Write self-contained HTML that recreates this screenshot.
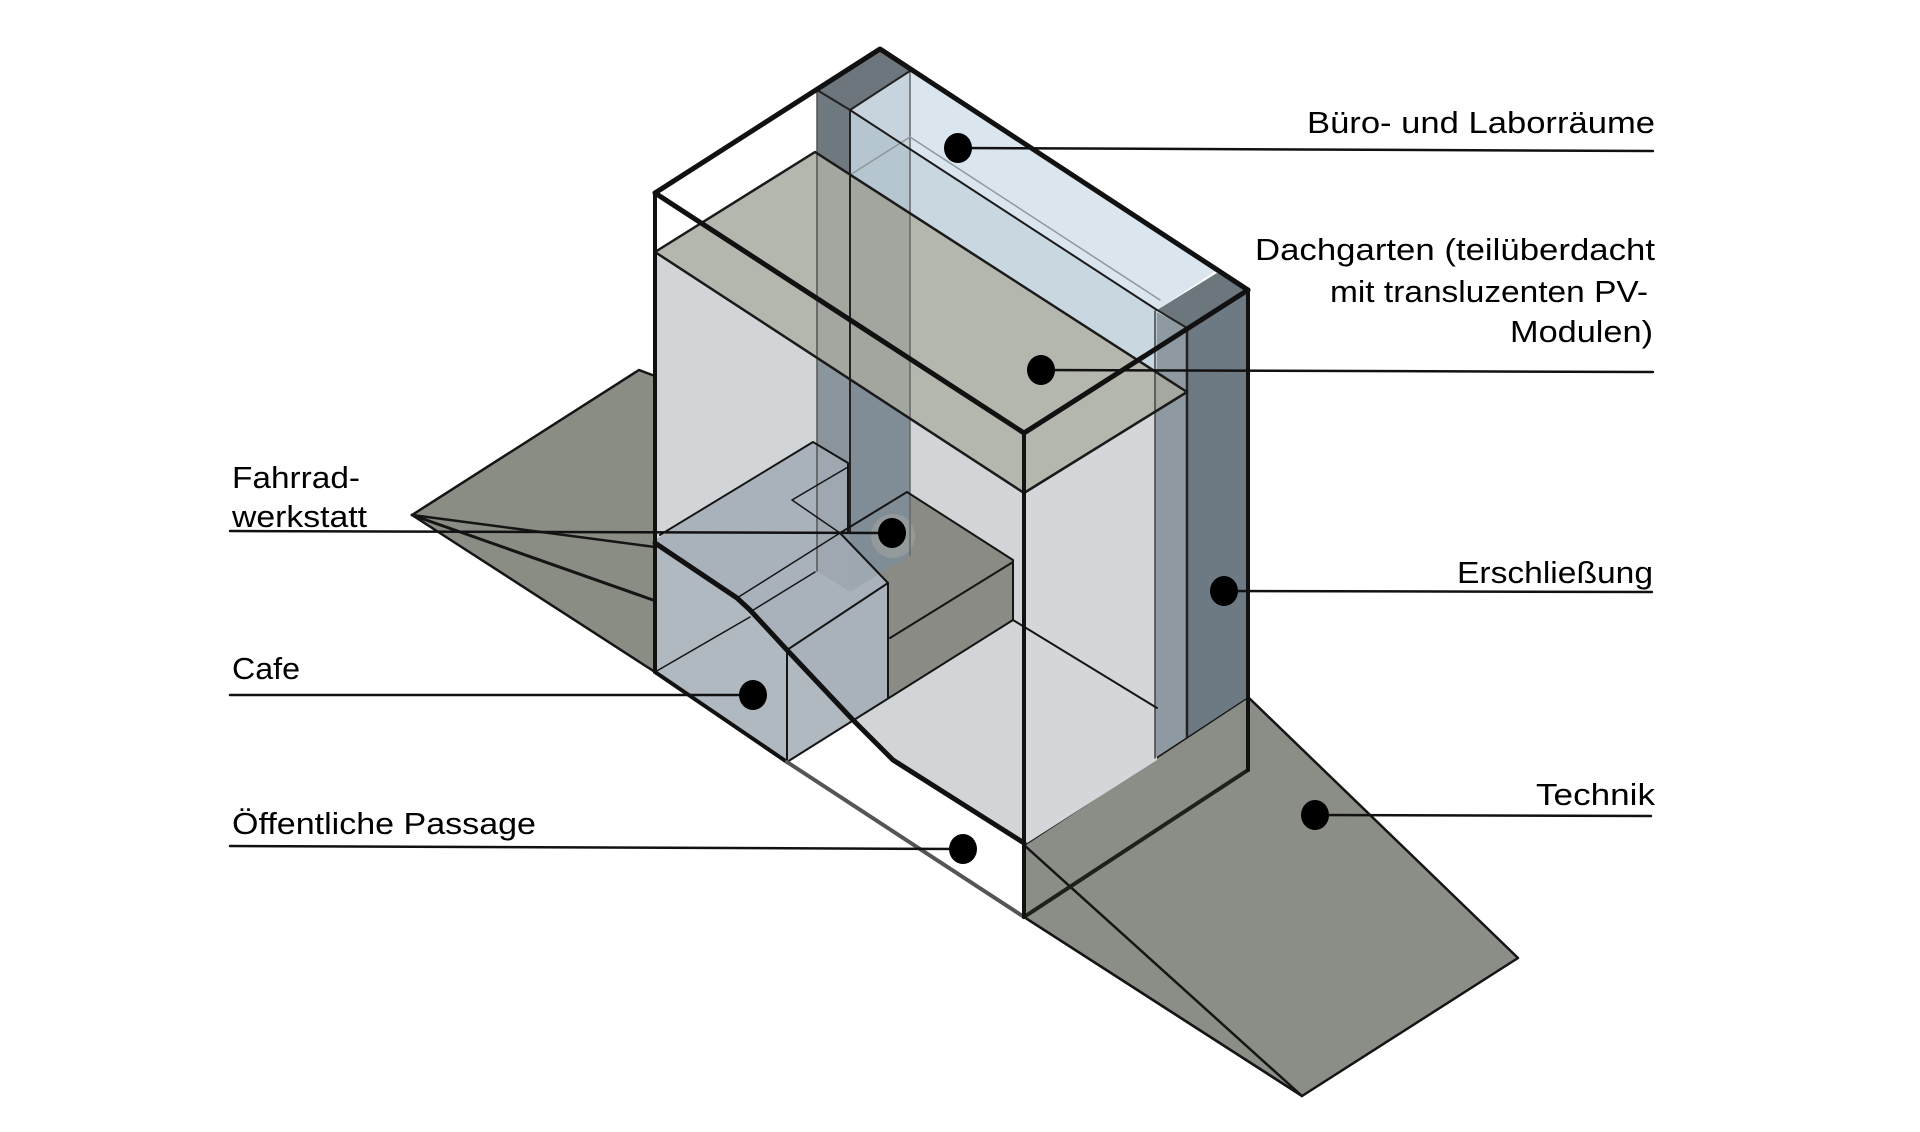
<!DOCTYPE html>
<html><head><meta charset="utf-8"><style>
html,body{margin:0;padding:0;background:#fff;}
svg{display:block;}
text{font-family:"Liberation Sans",Arial,sans-serif;font-size:31px;fill:#000;}
</style></head><body>
<svg width="1920" height="1132" viewBox="0 0 1920 1132" xmlns="http://www.w3.org/2000/svg">
<rect width="1920" height="1132" fill="#fff"/>
<!-- wings -->
<polygon points="412,515 639,370 655,376 655,672" fill="#8a8d84" stroke="#151515" stroke-width="2.5" stroke-linejoin="round"/>
<polygon points="1024,845 1248,697 1518,958 1302,1096 1024,917" fill="#8b8e86" stroke="#151515" stroke-width="2.5" stroke-linejoin="round"/>
<!-- facades -->
<polygon points="655,252 1024,493 1024,843 893,760 853,720 787,650 750,610 737,598 655,543" fill="#d2d5d8"/>
<polygon points="1024,493 1157,410 1157,760 1024,845" fill="#d4d7da"/>
<!-- dark workshop box -->
<polygon points="840,533 907,492 1013,560 1013,620 888,698 888,583" fill="#8a8b84"/>
<!-- back column -->
<polygon points="817,90 850,110 850,592 817,571" fill="#8b959d"/>
<polygon points="850,110 910,72 910,555 850,592" fill="#808c96"/>
<!-- right column -->
<polygon points="1155,311 1187,328 1187,737 1155,758" fill="#8e99a1"/>
<polygon points="1187,328 1248,290 1248,697 1187,737" fill="#6e7a83"/>
<polygon points="1157,310 1217,273 1248,290 1187,328" fill="#6c767d"/>
<!-- light block (cafe / workshop) -->
<polygon points="655,540 813,442 848,463 848,533 840,533 888,583 888,698 787,762 655,672" fill="#a2acb5" fill-opacity="0.85"/>
<!-- green roof garden -->
<polygon points="655,252 815,152 1187,392 1024,493" fill="#a7aaa0" fill-opacity="0.85"/>
<!-- column top dark part -->
<polygon points="817,90 850,110 850,175 817,153" fill="#6f7980"/>
<!-- Büro -->
<polygon points="913,70 1217,270 1157,310 850,110" fill="#d3e0ea" fill-opacity="0.85"/>
<polygon points="850,110 1157,310 1157,373 850,175" fill="#c0d0db" fill-opacity="0.85"/>
<!-- back column top -->
<polygon points="880,49 817,90 850,110 913,69" fill="#6d767c"/>
<!-- halo around workshop dot -->
<ellipse cx="893" cy="536" rx="22" ry="22" fill="#a9aaa3" fill-opacity="0.45"/>

<g fill="none" stroke-linejoin="round" stroke-linecap="round">
<line x1="817" y1="90" x2="817" y2="571" stroke="#555" stroke-width="1.5"/>
<line x1="850" y1="110" x2="850" y2="533" stroke="#222" stroke-width="2"/>
<line x1="910" y1="72" x2="910" y2="555" stroke="#666" stroke-width="1.5"/>
<polyline points="817,90 850,110 913,69" stroke="#222" stroke-width="2"/>
<polyline points="850,175 910,137 1160,300" stroke="#8d989e" stroke-width="1.5"/>
<line x1="850" y1="110" x2="1157" y2="310" stroke="#1a1a1a" stroke-width="2"/>
<line x1="1155" y1="311" x2="1155" y2="758" stroke="#444" stroke-width="1.5"/>
<line x1="1187" y1="328" x2="1187" y2="737" stroke="#222" stroke-width="2.5"/>
<polyline points="1157,310 1187,328 1248,290" stroke="#222" stroke-width="2"/>

<!-- green edges -->
<polygon points="655,252 815,152 1187,392 1024,493" stroke="#1a1a1a" stroke-width="2.5"/>

<!-- block lines -->
<polyline points="660,535 813,442 848,463 848,533" stroke="#151515" stroke-width="2"/>
<polyline points="848,467 792,500 840,533" stroke="#151515" stroke-width="1.5"/>
<line x1="840" y1="533" x2="888" y2="583" stroke="#151515" stroke-width="2"/>
<line x1="888" y1="583" x2="888" y2="698" stroke="#151515" stroke-width="2"/>
<line x1="787" y1="650" x2="888" y2="583" stroke="#151515" stroke-width="2"/>
<line x1="787" y1="650" x2="787" y2="762" stroke="#151515" stroke-width="2"/>
<line x1="1013" y1="620" x2="787" y2="762" stroke="#151515" stroke-width="2"/>
<line x1="655" y1="672" x2="750" y2="617" stroke="#151515" stroke-width="1.5"/>
<line x1="750" y1="612" x2="815" y2="572" stroke="#151515" stroke-width="1.5"/>
<line x1="737" y1="598" x2="840" y2="533" stroke="#151515" stroke-width="1.5"/>
<polyline points="840,533 907,492 1013,560 1013,620" stroke="#151515" stroke-width="2"/>
<line x1="890" y1="638" x2="1013" y2="562" stroke="#151515" stroke-width="2"/>
<line x1="1013" y1="620" x2="1157" y2="708" stroke="#151515" stroke-width="2"/>

<!-- wing lines -->
<line x1="412" y1="515" x2="655" y2="547" stroke="#151515" stroke-width="2.5"/>
<line x1="412" y1="515" x2="653" y2="600" stroke="#151515" stroke-width="3"/>
<line x1="1024" y1="845" x2="1302" y2="1096" stroke="#151515" stroke-width="2.5"/>
<line x1="1024" y1="917" x2="1302" y2="1096" stroke="#151515" stroke-width="2.5"/>
<line x1="1024" y1="917" x2="1248" y2="770" stroke="#1a221a" stroke-width="4"/>

<!-- passage -->
<line x1="655" y1="672" x2="787" y2="762" stroke="#111" stroke-width="4"/>
<line x1="787" y1="762" x2="1024" y2="917" stroke="#555" stroke-width="4"/>
<polyline points="655,543 737,598 750,610 787,650 853,720 893,760 1024,843" stroke="#111" stroke-width="5"/>

<!-- outer wireframe -->
<polyline points="655,193 880,49 1248,290" stroke="#111" stroke-width="5"/>
<polyline points="655,193 1024,433 1248,290" stroke="#111" stroke-width="5"/>
<line x1="655" y1="193" x2="655" y2="672" stroke="#111" stroke-width="4"/>
<line x1="1024" y1="433" x2="1024" y2="917" stroke="#111" stroke-width="4"/>
<line x1="1248" y1="290" x2="1248" y2="770" stroke="#111" stroke-width="4"/>

<!-- leaders -->
<g stroke="#111" stroke-width="2.5">
<line x1="958" y1="148" x2="1653" y2="151"/>
<line x1="1041" y1="370" x2="1653" y2="372"/>
<line x1="1224" y1="591" x2="1652" y2="592"/>
<line x1="1315" y1="815" x2="1651" y2="816"/>
<line x1="230" y1="531" x2="892" y2="533"/>
<line x1="230" y1="695" x2="753" y2="695"/>
<line x1="230" y1="846" x2="963" y2="849"/>
</g>
</g>
<!-- dots -->
<g fill="#000">
<ellipse cx="958" cy="148" rx="14" ry="15"/>
<ellipse cx="1041" cy="370" rx="14" ry="15"/>
<ellipse cx="892" cy="533" rx="14" ry="15"/>
<ellipse cx="1224" cy="591" rx="14" ry="15"/>
<ellipse cx="753" cy="695" rx="14" ry="15"/>
<ellipse cx="1315" cy="815" rx="14" ry="15"/>
<ellipse cx="963" cy="849" rx="14" ry="15"/>
</g>
<!-- labels -->
<text x="1307" y="133" textLength="348" lengthAdjust="spacingAndGlyphs">Büro- und Laborräume</text>
<text x="1255" y="260" textLength="400" lengthAdjust="spacingAndGlyphs">Dachgarten (teilüberdacht</text>
<text x="1330" y="302" textLength="318" lengthAdjust="spacingAndGlyphs">mit transluzenten PV-</text>
<text x="1510" y="342" textLength="143" lengthAdjust="spacingAndGlyphs">Modulen)</text>
<text x="1457" y="583" textLength="196" lengthAdjust="spacingAndGlyphs">Erschließung</text>
<text x="1536" y="805" textLength="119" lengthAdjust="spacingAndGlyphs">Technik</text>
<text x="232" y="488" textLength="128" lengthAdjust="spacingAndGlyphs">Fahrrad-</text>
<text x="232" y="527" textLength="135" lengthAdjust="spacingAndGlyphs">werkstatt</text>
<text x="232" y="679" textLength="68" lengthAdjust="spacingAndGlyphs">Cafe</text>
<text x="232" y="834" textLength="304" lengthAdjust="spacingAndGlyphs">Öffentliche Passage</text>
</svg>
</body></html>
